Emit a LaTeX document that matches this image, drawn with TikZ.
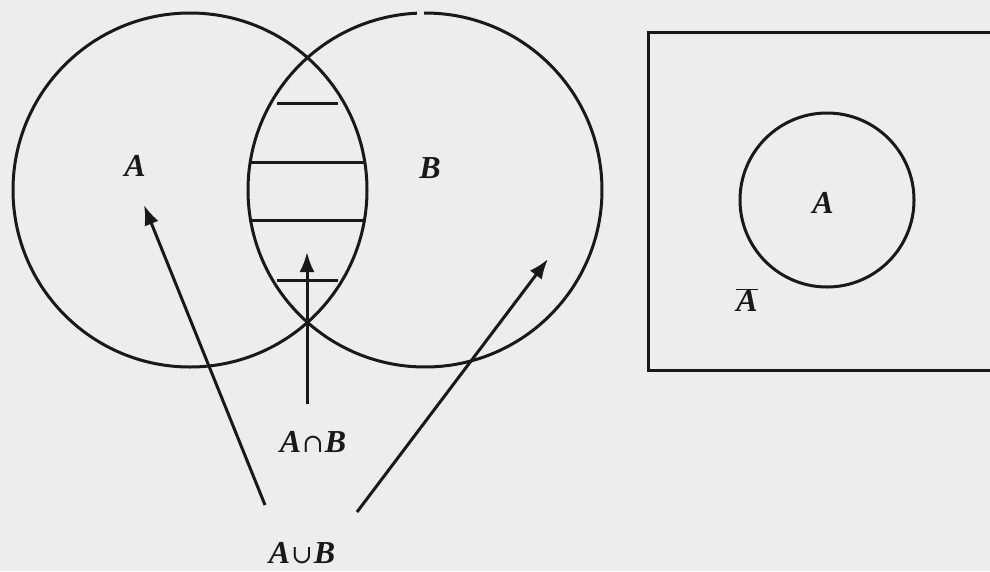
\documentclass[tikz,border=0pt]{standalone}
\usepackage{fontspec}
\setmainfont{Liberation Serif}
\newfontfamily\symf{DejaVu Serif}
\usetikzlibrary{arrows.meta}
\begin{document}
\begin{tikzpicture}[x=1pt,y=-1pt,
  ln/.style={line width=3pt,black!90},
  arr/.style={ln,-{Latex[length=20pt,width=15pt]}},
  lbl/.style={font=\fontsize{32}{36}\selectfont\bfseries\itshape,inner sep=0pt,text=black!90}]
\useasboundingbox (0,0) rectangle (990,571);
\clip (0,0) rectangle (990,571);
\fill[black!7] (0,0) rectangle (990,571);
% centres
\coordinate (cA) at (190,190);
\coordinate (cB) at (425,190);
\coordinate (cC) at (827,200);
% circle A
\draw[ln] (cA) circle[radius=177];
% circle B with small gap at top
\draw[ln] (cB) ++(269.7:177) arc[start angle=269.7,end angle=627.4,radius=177];
% hatch lines in the lens
\coordinate (h1a) at (277,103); \coordinate (h1b) at (338,103);
\coordinate (h2a) at (249,162); \coordinate (h2b) at (366,162);
\coordinate (h3a) at (249,220); \coordinate (h3b) at (366,220);
\coordinate (h4a) at (277,280); \coordinate (h4b) at (338,280);
\draw[ln] (h1a) -- (h1b);
\draw[ln] (h2a) -- (h2b);
\draw[ln] (h3a) -- (h3b);
\draw[ln] (h4a) -- (h4b);
% labels
\node[lbl] (lA) at (135,166) {A};
\node[lbl] (lB) at (430,168) {B};
\node[lbl] (lAB) at (313,442) {A\kern1pt{\mdseries\upshape\symf\fontsize{26}{30}\selectfont ∩}\kern1pt B};
\node[lbl] (lAuB) at (302,553) {A\kern1pt{\mdseries\upshape\symf\fontsize{26}{30}\selectfont ∪}\kern1pt B};
% arrows
\coordinate (t0) at (307,252);
\coordinate (s0) at (307,404);
\draw[arr] (s0) -- (t0);
\coordinate (s1) at (265,505);
\coordinate (t1) at (144,205);
\draw[arr] (s1) -- (t1);
\coordinate (s2) at (357,512);
\coordinate (t2) at (548,259);
\draw[arr] (s2) -- (t2);
% right box
\coordinate (bx1) at (648,32);
\coordinate (bx2) at (1010,370);
\draw[ln] (bx1) rectangle (bx2);
\draw[ln] (cC) circle[radius=87];
\node[lbl] (lA2) at (823,203) {A};
\node[lbl] (lAbar) at (747,300) {$\overline{\hbox{\bfseries\itshape A}}$};
\end{tikzpicture}
\end{document}
